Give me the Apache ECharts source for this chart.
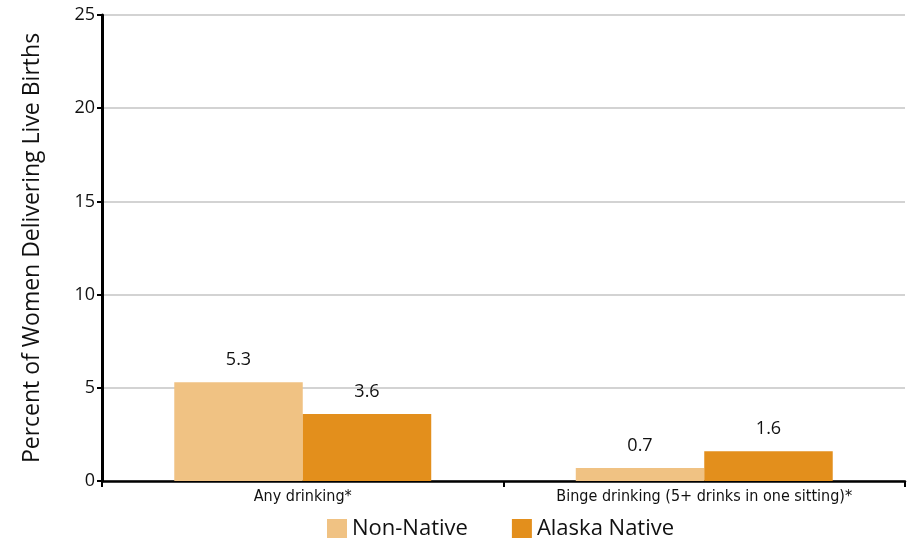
<!DOCTYPE html>
<html lang="en">
<head>
  <meta charset="UTF-8" />
  <title>Alcohol use during pregnancy</title>
  <script src="https://cdn.jsdelivr.net/npm/echarts@6/dist/echarts.min.js"></script>
  <style>
    html, body { margin: 0; padding: 0; background: #fff; }
    #chart { width: 917px; height: 538px; }
  </style>
</head>
<body>
  <div id="chart"></div>
  <script>
    const categories = ['Any drinking*', 'Binge drinking (5+ drinks in one sitting)*'];
    const nonNative = [5.3, 0.7];
    const alaskaNative = [3.6, 1.6];
    const yTicks = [0, 5, 10, 15, 20, 25];

    const myChart = echarts.init(document.getElementById('chart'));

    const barLabel = {
      show: true,
      position: 'top',
      distance: 13,
      fontFamily: 'Open Sans, sans-serif',
      fontSize: 18,
      color: '#111',
      formatter: p => p.value.toFixed(1)
    };

    myChart.setOption({
      animation: false,
      grid: { left: 102, right: 12, top: 15, bottom: 57 },
      legend: {
        top: 513,
        left: 322,
        itemWidth: 20,
        itemHeight: 20,
        itemGap: 44,
        icon: 'rect',
        textStyle: { fontFamily: 'Open Sans, sans-serif', fontSize: 22, color: '#111' },
        data: ['Non-Native', 'Alaska Native']
      },
      xAxis: {
        type: 'category',
        data: categories,
        axisLine: { lineStyle: { color: '#000', width: 2.5 } },
        axisTick: { show: true, length: 6, lineStyle: { color: '#000', width: 2 } },
        axisLabel: {
          fontFamily: 'DejaVu Sans Condensed, sans-serif',
          fontSize: 16,
          color: '#111',
          margin: 8
        }
      },
      yAxis: {
        type: 'value',
        min: 0,
        max: 25,
        interval: 5,
        name: 'Percent of Women Delivering Live Births',
        nameLocation: 'middle',
        nameGap: 58,
        nameTextStyle: { fontFamily: 'Open Sans, sans-serif', fontSize: 23, color: '#111' },
        axisLine: { show: true, lineStyle: { color: '#000', width: 3 } },
        axisTick: { show: true, length: 5, lineStyle: { color: '#000', width: 2 } },
        axisLabel: {
          fontFamily: 'Open Sans, sans-serif',
          fontSize: 18,
          color: '#111',
          margin: 7,
          formatter: v => (yTicks.includes(v) ? String(v) : '')
        },
        splitLine: { lineStyle: { color: '#c4c4c4', width: 1.5 } }
      },
      series: [
        {
          name: 'Non-Native',
          type: 'bar',
          data: nonNative,
          barGap: '0%',
          barCategoryGap: '36%',
          itemStyle: { color: '#F0C283' },
          label: barLabel
        },
        {
          name: 'Alaska Native',
          type: 'bar',
          data: alaskaNative,
          itemStyle: { color: '#E38F1C' },
          label: barLabel
        }
      ]
    });
  </script>
</body>
</html>
